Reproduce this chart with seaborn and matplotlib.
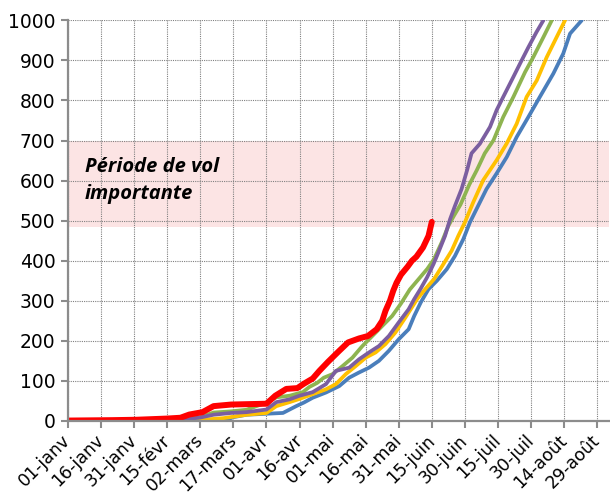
import matplotlib
matplotlib.use("Agg")
import matplotlib.pyplot as plt
import seaborn as sns

# day of year (0 = 01-janv) and cumulative count
tick_days = [0, 15, 30, 45, 60, 75, 90, 105, 120, 135, 150, 165, 180, 195, 210, 225, 240]
tick_labels = ['01-janv', '16-janv', '31-janv', '15-févr', '02-mars', '17-mars', '01-avr',
               '16-avr', '01-mai', '16-mai', '31-mai', '15-juin', '30-juin', '15-juil',
               '30-juil', '14-août', '29-août']

blue_days = [0, 45, 60, 70.5, 75, 81, 90, 97.5, 103.5, 107, 111, 117, 123, 127.5, 132, 136.5,
             141, 145.5, 150, 154.5, 157, 160, 163.5, 167.3, 171.8, 175.5, 179.3, 182.3, 186,
             189.8, 194.4, 199, 203.5, 208.8, 214, 220.1, 224.6, 227.7, 233]
blue_vals = [0, 0, 0, 0, 9.5, 15.5, 18, 20, 37, 46, 58, 71, 87, 108, 121, 133, 150, 175, 204,
             229, 262, 296, 329, 350, 379, 412, 454, 496, 537, 579, 618, 659, 709, 759, 809,
             867, 917, 967, 1000]

orange_days = [0, 31, 51, 60, 70.5, 81, 90, 94.5, 100.5, 105, 111, 117, 121.5, 126, 130.5, 135,
               139.5, 144, 148.5, 153, 158.3, 162, 166, 170.3, 174, 177, 180, 183.8, 188.3,
               194.4, 198.9, 203.5, 208, 212.6, 217.1, 221.6, 225.4]
orange_vals = [0, 1, 1, 2.6, 7, 15.5, 20, 37, 47, 55, 67, 79, 92, 117, 137, 158, 171, 192, 221,
               258, 304, 329, 354, 392, 425, 462, 496, 546, 601, 651, 692, 742, 809, 850, 908,
               958, 1000]

green_days = [0, 31, 45, 51, 60, 66, 74, 81, 90, 94.5, 100.5, 106.5, 109.5, 113, 116, 120, 124.5,
              129, 133.5, 138, 142.5, 147, 151, 155, 159, 163, 166, 169.5, 172.5, 175, 178, 182,
              185.4, 189, 193, 197.4, 202, 207.3, 211, 215.6, 219.4]
green_vals = [0, 2, 3, 4, 9.5, 21, 24, 28, 46, 59, 63, 72, 85, 95, 108, 117, 137, 158, 187, 212,
              237, 262, 293, 328, 354, 380, 404, 446, 487, 512, 540, 590, 626, 668, 701, 759,
              809, 871, 908, 958, 1000]

purple_days = [0, 31, 45, 51, 60, 66, 74, 81, 90, 94.5, 100.5, 105, 111, 117, 121.5, 127.5, 132,
               136.5, 141, 145.5, 150, 154.5, 157, 159.8, 162.8, 165.8, 168, 171, 173.3, 175.5,
               178.5, 181, 183, 186.8, 191.4, 194.4, 197.4, 202, 205, 208.8, 212.5, 215.6]
purple_vals = [0, 2, 3, 3, 8.6, 15.5, 20, 22, 28.5, 47, 54, 63, 72, 92, 125, 133, 154, 171, 187,
               212, 246, 279, 304, 329, 358, 392, 421, 462, 504, 537, 579, 626, 668, 692, 734,
               776, 809, 859, 892, 933, 971, 1000]

red_days = [0, 20, 31, 45, 51, 55, 61, 66, 74, 90, 94, 99, 104, 107, 111, 114, 118, 123, 127,
            132, 136, 140, 142.5, 144, 146, 147.5, 149, 151, 154, 156, 158, 161, 163.5, 165]
red_vals = [1, 2, 3, 6, 8, 16, 22, 37, 41, 43, 63, 80, 82, 93, 106, 125, 148, 175, 196, 206,
            212, 229, 250, 275, 300, 325, 345, 365, 385, 400, 410, 433, 462, 497]

band_low, band_high = 485, 700

fig = plt.figure(figsize=(6.1, 4.97), dpi=100)
ax = fig.add_axes([0.1115, 0.153, 0.887, 0.806])

ax.axhspan(band_low, band_high, color='#fce4e4', zorder=0, linewidth=0)

series = [
    (blue_days, blue_vals, '#4a7ebb', 2.7),
    (orange_days, orange_vals, '#ffc000', 2.7),
    (green_days, green_vals, '#8eb450', 2.7),
    (purple_days, purple_vals, '#7b5ea0', 2.7),
    (red_days, red_vals, '#ff0000', 4.3),
]
for d, v, c, lw in series:
    sns.lineplot(x=d, y=v, color=c, linewidth=lw, ax=ax, sort=False,
                 solid_capstyle='round', solid_joinstyle='round')

ax.set_xlim(0, 245.4)
ax.set_ylim(0, 1000)
ax.set_yticks(range(0, 1001, 100))
ax.set_xticks(tick_days)
ax.set_xticklabels(tick_labels, rotation=45, ha='right', va='center',
                   rotation_mode='anchor')
ax.set_axisbelow(True)
ax.grid(True, color='#808080', linestyle=(0, (1, 1)), linewidth=0.8)

for s in ['top', 'right']:
    ax.spines[s].set_visible(False)
for s in ['left', 'bottom']:
    ax.spines[s].set_color('#8c8c8c')
    ax.spines[s].set_linewidth(1.6)
ax.tick_params(axis='both', colors='#8c8c8c', length=5, width=1.5, labelcolor='black')
ax.tick_params(axis='x', pad=7, labelsize=12.5)
ax.tick_params(axis='y', pad=4, labelsize=13.5)

ax.text(7.7, 658, 'Période de vol\nimportante', fontsize=14.5, fontweight='bold',
        style='italic', family=['Open Sans', 'DejaVu Sans'], va='top', ha='left',
        linespacing=1.45)

ax.set_xlabel('')
ax.set_ylabel('')
fig.savefig('out.png', dpi=100)
